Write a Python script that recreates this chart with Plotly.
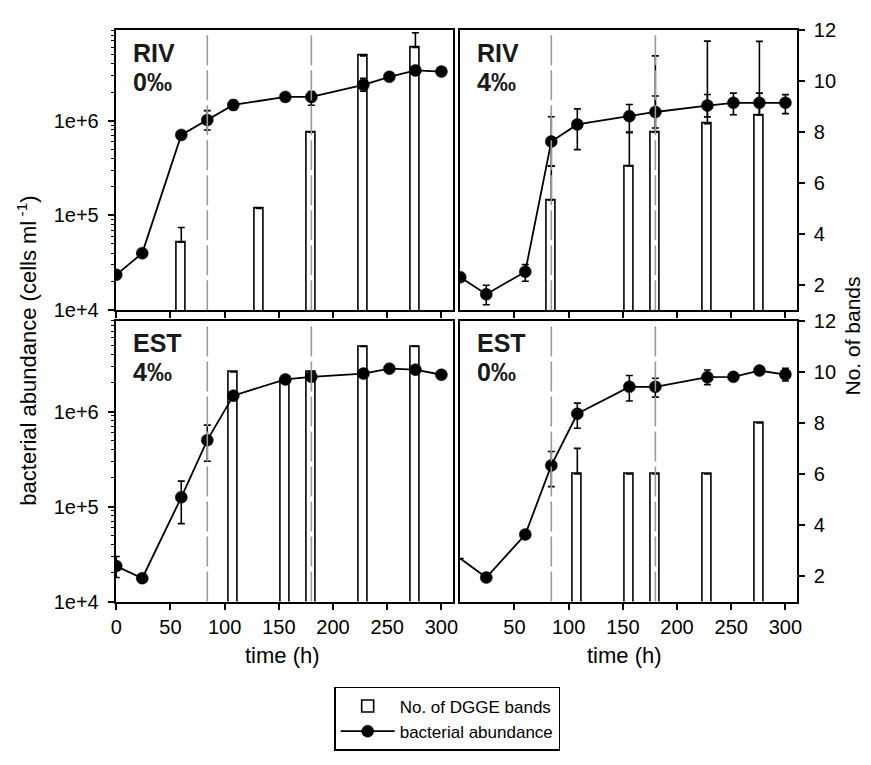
import plotly.graph_objects as go

W, H = 871, 765

# ---------------- data ----------------
times = [0, 24, 60, 84, 108, 156, 180, 228, 252, 276, 300]

riv0_abund = [2.36e4, 4.0e4, 7.1e5, 1.02e6, 1.47e6, 1.79e6, 1.79e6, 2.4e6, 2.92e6, 3.41e6, 3.31e6]
riv0_err_hi = [0, 0, 0, 2.6e5, 1.8e5, 5e4, 2.5e5, 4.2e5, 0, 0, 0]
riv0_err_lo = [0, 0, 0, 2.2e5, 1.6e5, 5e4, 3.3e5, 3.5e5, 0, 0, 0]
riv0_band_t = [60, 132, 180, 228, 276]
riv0_bands = [3.67, 5, 8, 11, 11.33]
riv0_band_err = [0.58, 0, 0, 0, 0.58]

riv4_abund = [2.23e4, 1.47e4, 2.55e4, 6.04e5, 9.16e5, 1.12e6, 1.24e6, 1.45e6, 1.55e6, 1.55e6, 1.55e6]
riv4_err_hi = [0, 3.6e3, 4.8e3, 5.0e5, 4.2e5, 3.7e5, 5.9e5, 4.5e5, 4.1e5, 4.1e5, 3.4e5]
riv4_err_lo = [0, 3.3e3, 5.3e3, 2.7e5, 4.2e5, 3.7e5, 4.0e5, 3.5e5, 3.9e5, 3.9e5, 3.6e5]
riv4_band_t = [84, 156, 180, 228, 276]
riv4_bands = [5.33, 6.67, 8, 8.33, 8.67]
riv4_band_err = [1.33, 1.33, 3, 3.25, 2.9]

est4_abund = [2.36e4, 1.76e4, 1.25e5, 5.0e5, 1.47e6, 2.18e6, 2.32e6, 2.51e6, 2.83e6, 2.76e6, 2.44e6]
est4_err_hi = [6.2e3, 0, 6.0e4, 2.2e5, 0, 0, 0, 0, 0, 0, 0]
est4_err_lo = [5.7e3, 0, 5.9e4, 2.0e5, 0, 0, 0, 0, 0, 0, 0]
est4_band_t = [108, 156, 180, 228, 276]
est4_bands = [10, 9.67, 10, 11, 11]
est4_band_err = [0, 0, 0, 0, 0]

est0_abund = [2.84e4, 1.79e4, 5.07e4, 2.71e5, 9.47e5, 1.82e6, 1.82e6, 2.30e6, 2.32e6, 2.70e6, 2.45e6]
est0_err_hi = [0, 0, 0, 1.09e5, 2.8e5, 5.8e5, 4.2e5, 4.4e5, 0, 0, 4.0e5]
est0_err_lo = [0, 0, 0, 1.09e5, 2.8e5, 5.3e5, 4.0e5, 3.8e5, 0, 0, 3.5e5]
est0_band_t = [108, 156, 180, 228, 276]
est0_bands = [6, 6, 6, 6, 8]
est0_band_err = [1, 0, 0, 0, 0]

panel_sites = ["RIV", "RIV", "EST", "EST"]
panel_salinity = ["0‰", "4‰", "4‰", "0‰"]
treatment_times = [84, 180]

x_ticks_left = [0, 50, 100, 150, 200, 250, 300]
x_ticks_right = [50, 100, 150, 200, 250, 300]
band_ticks = [2, 4, 6, 8, 10, 12]
abund_ticks = [1e4, 1e5, 1e6]
abund_tick_text = ["1e+4", "1e+5", "1e+6"]

# ---------------- layout helpers ----------------
def px_x(p):
    return p / W

def px_y(p):
    return 1 - p / H

FONT = "Liberation Sans, Arial, sans-serif"
TICK = 20
TITLE = 22
col_x = [(112, 453), (460, 801)]
row_y = [(20, 308), (319, 608)]

panels = [
    (riv0_abund, riv0_err_hi, riv0_err_lo, riv0_band_t, riv0_bands, riv0_band_err, 0, 0),
    (riv4_abund, riv4_err_hi, riv4_err_lo, riv4_band_t, riv4_bands, riv4_band_err, 0, 1),
    (est4_abund, est4_err_hi, est4_err_lo, est4_band_t, est4_bands, est4_band_err, 1, 0),
    (est0_abund, est0_err_hi, est0_err_lo, est0_band_t, est0_bands, est0_band_err, 1, 1),
]

fig = go.Figure()
layout = dict(
    width=W, height=H,
    margin=dict(l=0, r=0, t=0, b=0),
    paper_bgcolor="white", plot_bgcolor="white",
    font=dict(family=FONT, size=TICK, color="black"),
    showlegend=True,
    bargap=0,
)
shapes = []
annotations = []

minor_vals = [k * 10 ** d for d in (4, 5, 6) for k in range(2, 10)]

for i, (ab, ehi, elo, bt, bv, be, r, c) in enumerate(panels):
    n = i + 1
    xa = "x" if n == 1 else f"x{n}"
    yb_idx = 2 * n - 1
    ya_idx = 2 * n
    yb = "y" if yb_idx == 1 else f"y{yb_idx}"
    ya = f"y{ya_idx}"
    xdom = [px_x(col_x[c][0]), px_x(col_x[c][1])]
    ydom = [px_y(row_y[r][1]), px_y(row_y[r][0])]

    # bands (base axis, right side)
    fig.add_trace(go.Bar(
        x=bt, y=bv, width=8.5, xaxis=xa, yaxis=yb,
        marker=dict(color="white", line=dict(color="black", width=1.6)),
        error_y=dict(type="data", array=be, symmetric=False, arrayminus=[0] * len(be),
                     color="black", thickness=1.6, width=3.5),
        name="No. of DGGE bands", showlegend=(n == 1), legendrank=1,
    ))
    # abundance (overlay, left side, log)
    sizes = [12] * len(times)
    if n == 4:
        sizes[0] = 0
    fig.add_trace(go.Scatter(
        x=times, y=ab, xaxis=xa, yaxis=ya, mode="lines+markers",
        line=dict(color="black", width=1.8),
        marker=dict(color="black", size=sizes, symbol="circle", opacity=1,
                    line=dict(color="black", width=0.5)),
        error_y=dict(type="data", array=ehi, arrayminus=elo, symmetric=False,
                     color="black", thickness=1.6, width=3.5),
        name="bacterial abundance", showlegend=(n == 1), legendrank=2,
    ))

    xkey = "xaxis" if n == 1 else f"xaxis{n}"
    ybkey = "yaxis" if yb_idx == 1 else f"yaxis{yb_idx}"
    yakey = f"yaxis{ya_idx}"
    xt = x_ticks_left if c == 0 else x_ticks_right
    layout[xkey] = dict(
        domain=xdom, anchor=yb, range=[-0.5, 310.5],
        tickvals=xt, ticktext=[str(v) for v in xt],
        showticklabels=(r == 1), ticks="outside", ticklen=6, tickwidth=1.6,
        tickcolor="black", showline=True, linecolor="black", linewidth=2,
        mirror=True, showgrid=False, zeroline=False,
        tickfont=dict(size=TICK, family=FONT),
    )
    layout[ybkey] = dict(
        domain=ydom, anchor=xa, side="right", range=[1, 12],
        tickvals=band_ticks, showticklabels=(c == 1),
        ticks="outside" if c == 1 else "", ticklen=6, tickwidth=1.6, tickcolor="black",
        ticklabelstandoff=5,
        showline=True, linecolor="black", linewidth=2, showgrid=False, zeroline=False,
        tickfont=dict(size=TICK, family=FONT),
    )
    layout[yakey] = dict(
        overlaying=yb, anchor=xa, side="left", type="log", range=[4, 6.955],
        tickvals=abund_ticks, ticktext=abund_tick_text, showticklabels=(c == 0),
        ticks="outside" if c == 0 else "", ticklen=6, tickwidth=1.6, tickcolor="black",
        ticklabelstandoff=5,
        showline=True, linecolor="black", linewidth=2, showgrid=False, zeroline=False,
        tickfont=dict(size=TICK, family=FONT),
        minor=dict(tickvals=minor_vals, ticks="outside" if c == 0 else "", ticklen=3,
                   tickwidth=1, tickcolor="black", showgrid=False),
    )

    for tt in treatment_times:
        shapes.append(dict(
            type="line", xref=xa, yref=f"{yb} domain", x0=tt, x1=tt, y0=0, y1=1,
            line=dict(color="#9a9a9a", width=1.6, dash="30px,5px"), layer="above",
        ))

    for k, txt in enumerate((panel_sites[i], panel_salinity[i])):
        annotations.append(dict(
            text=f"<b>{txt}</b>", xref="paper", yref="paper",
            x=px_x(col_x[c][0] + 15), y=px_y(row_y[r][0] + 23 + 30 * k),
            xanchor="left", yanchor="middle", align="left", showarrow=False,
            font=dict(size=25, family=FONT, color="#1a1a1a"),
        ))

# axis titles
annotations.append(dict(
    text="bacterial abundance (cells ml<sup> -1</sup>)", xref="paper", yref="paper",
    x=px_x(22), y=px_y(350), textangle=-90, showarrow=False,
    xanchor="center", yanchor="middle", font=dict(size=TITLE, family=FONT),
))
annotations.append(dict(
    text="No. of bands", xref="paper", yref="paper",
    x=px_x(857), y=px_y(335), textangle=-90, showarrow=False,
    xanchor="center", yanchor="middle", font=dict(size=21, family=FONT),
))
for cx in (281, 627):
    annotations.append(dict(
        text="time (h)", xref="paper", yref="paper",
        x=px_x(cx), y=px_y(664), showarrow=False,
        xanchor="center", yanchor="middle", font=dict(size=TITLE, family=FONT),
    ))

layout["shapes"] = shapes
layout["annotations"] = annotations
layout["legend"] = dict(
    x=px_x(333), y=px_y(696), xanchor="left", yanchor="top",
    bordercolor="black", borderwidth=1.5, bgcolor="white",
    font=dict(size=17, family=FONT), traceorder="normal",
    itemwidth=54, tracegroupgap=0,
)
fig.update_layout(**layout)
fig.write_html(
    "out.html",
    config={"displayModeBar": False},
    post_script="document.body.style.margin='0px';document.body.style.overflow='hidden';",
)
